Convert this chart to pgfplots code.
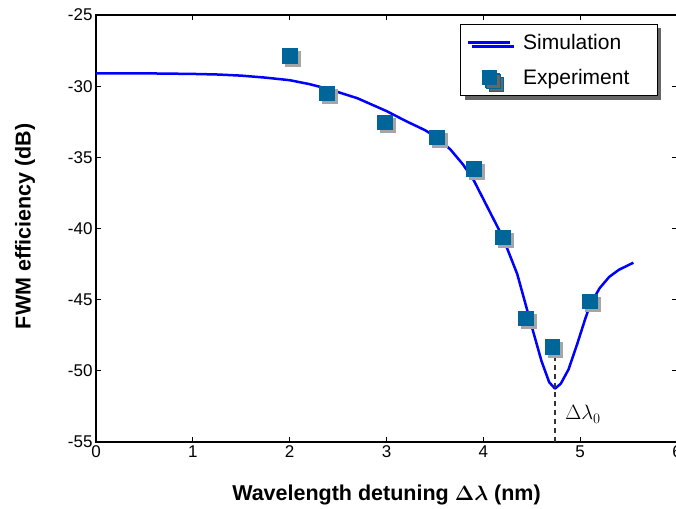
\documentclass[border=0pt]{standalone}
\usepackage{amsmath}
\usepackage{bm}
\usepackage{pgfplots}
\pgfplotsset{compat=1.18}
\usepackage{fontspec}
\setmainfont{Liberation Sans}
\usetikzlibrary{shadows}
\definecolor{expblue}{RGB}{0,102,153}
\definecolor{shadowgray}{RGB}{165,165,165}
\begin{document}
\begin{tikzpicture}
\begin{axis}[
  scale only axis, width=581pt, height=427pt,
  xmin=0, xmax=6, ymin=-55, ymax=-25,
  xtick={0,1,2,3,4,5,6}, ytick={-55,-50,-45,-40,-35,-30,-25},
  tick align=inside, major tick length=5pt,
  every tick/.style={black, line width=0.8pt},
  axis line style={line width=1.2pt},
  tick label style={font=\fontsize{17}{20}\selectfont},
  /pgf/number format/assume math mode=true,
  xlabel={\textbf{Wavelength detuning $\bm{\Delta\lambda}$ (nm)}},
  ylabel={\textbf{FWM efficiency (dB)}},
  label style={font=\fontsize{21.5}{25}\selectfont},
  xlabel style={at={(axis description cs:0.5,-0.124)}, anchor=center},
  ylabel style={at={(axis description cs:-0.122,0.505)}, anchor=center},
  legend style={at={(rel axis cs:0.967,0.979)}, anchor=north east,
    draw=black, line width=0.8pt, fill=white,
    font=\fontsize{21}{25}\selectfont,
    drop shadow={shadow xshift=4pt, shadow yshift=-4pt, fill=black!60, opacity=1},
    inner xsep=6pt, inner ysep=8pt, row sep=14pt,
    cells={anchor=west},
    /tikz/every odd column/.append style={column sep=10pt}},
]
\addplot[blue, line width=2.5pt, line join=round,
  legend image code/.code={\draw[blue, line width=2.5pt] (0pt,0pt) -- (42pt,0pt);}]
  table {
x y
0.00 -29.10
0.50 -29.10
1.00 -29.14
1.25 -29.18
1.50 -29.26
1.75 -29.40
2.00 -29.58
2.20 -29.85
2.40 -30.20
2.70 -30.85
3.00 -31.75
3.20 -32.45
3.40 -33.10
3.52 -33.62
3.66 -34.45
3.79 -35.50
3.90 -36.60
4.05 -38.60
4.20 -40.60
4.35 -43.20
4.48 -46.40
4.60 -49.30
4.68 -50.80
4.74 -51.25
4.80 -50.90
4.88 -49.90
4.97 -48.10
5.05 -46.40
5.10 -45.40
5.15 -44.80
5.20 -44.20
5.30 -43.40
5.40 -42.90
5.55 -42.40
};
\addlegendentry{Simulation}
\addplot[only marks, mark=square*, mark size=7.25pt, forget plot, color=shadowgray,
  mark options={draw=none, fill=shadowgray, xshift=3pt, yshift=-3pt}]
  table {
x y
2.00 -27.86
2.38 -30.50
2.98 -32.54
3.52 -33.60
3.90 -35.80
4.20 -40.60
4.44 -46.30
4.71 -48.30
5.10 -45.10
};
\addplot[only marks, mark=square*, mark size=7.25pt, color=expblue,
  mark options={draw=expblue, fill=expblue},
  legend image code/.code={
    \path[fill=shadowgray] (17pt,-10pt) rectangle ++(14.5pt,14.5pt);
    \path[fill=expblue] (14pt,-7pt) rectangle ++(14.5pt,14.5pt);}]
  table {
x y
2.00 -27.86
2.38 -30.50
2.98 -32.54
3.52 -33.60
3.90 -35.80
4.20 -40.60
4.44 -46.30
4.71 -48.30
5.10 -45.10
};
\addlegendentry{Experiment\hspace*{20pt}}
\addplot[black!80, dashed, line width=1.3pt, dash pattern=on 5pt off 4pt, forget plot]
  coordinates {(4.74,-55) (4.74,-48.8)};
\node[font=\fontsize{22}{26}\selectfont] at (axis cs:5.03,-53.05) {$\Delta\lambda_0$};
\coordinate (O) at (rel axis cs:0,0);
\coordinate (T) at (rel axis cs:1,1);
\end{axis}
\pgfresetboundingbox
\path[use as bounding box] ([xshift=-96pt,yshift=-66pt]O) rectangle ([xshift=-1pt,yshift=15pt]T);
\end{tikzpicture}
\end{document}
